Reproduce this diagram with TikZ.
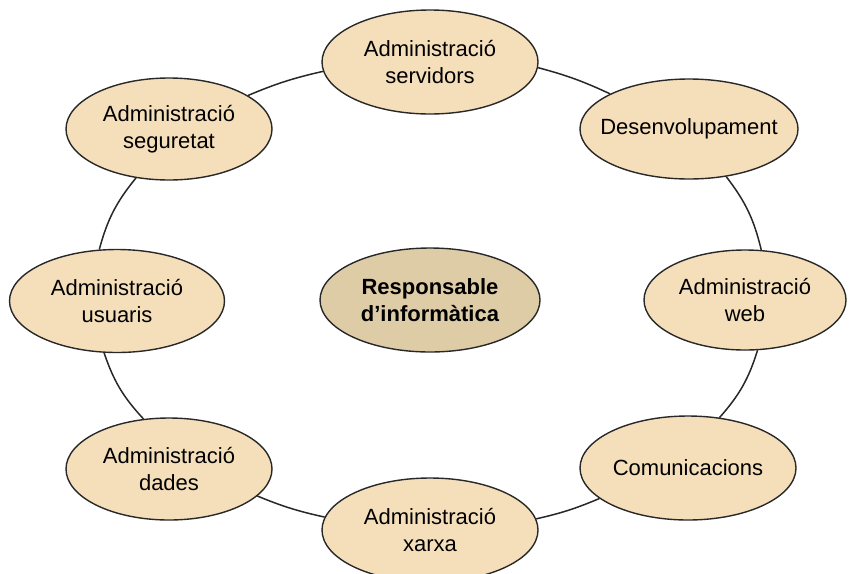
\documentclass[tikz,border=0pt]{standalone}
\usepackage{fontspec}
\setmainfont{Liberation Sans}
\usetikzlibrary{shapes.geometric}
\definecolor{outerfill}{RGB}{245,223,187}
\definecolor{centerfill}{RGB}{222,204,167}
\definecolor{edgecol}{RGB}{40,40,40}
\tikzset{
  area/.style={ellipse, draw=edgecol, line width=1.4pt, fill=outerfill, inner sep=0pt,
    minimum width=214pt, minimum height=103pt, align=center,
    font=\fontsize{22}{27}\selectfont},
  hub/.style={area, fill=centerfill, minimum width=220pt, font=\fontsize{22}{27}\selectfont\bfseries},
  link/.style={draw=edgecol, line width=1.5pt}
}
\begin{document}
\begin{tikzpicture}[x=1pt,y=1pt]
\useasboundingbox (0,0) rectangle (850,-573);
\fill[white] (0,0) rectangle (850,-573);
\node[area, minimum width=216pt, minimum height=104pt] (serv) at (430,-62) {Administració\\servidors};
\node[area, minimum width=206pt, minimum height=102pt] (segu) at (169,-129) {Administració\\seguretat};
\node[area, minimum width=218pt, minimum height=100pt, inner xsep=-25pt] (dese) at (689,-129) {Desenvolupament};
\node[area, minimum width=215pt, minimum height=103pt] (usua) at (117,-301) {Administració\\usuaris};
\node[hub, minimum height=104pt] (resp) at (430,-300) {Responsable\\d’informàtica};
\node[area, minimum width=202pt, minimum height=100pt] (web) at (745,-300) {Administració\\web};
\node[area, minimum width=206pt, minimum height=102pt] (dade) at (169,-469) {Administració\\dades};
\node[area, minimum width=216pt, minimum height=104pt, inner xsep=-20pt] (comu) at (688,-468) {Comunicacions};
\node[area, minimum width=216pt, minimum height=104pt] (xarx) at (430,-530) {Administració\\xarxa};
\draw[link] (serv.-3.7) to[bend left=5] (dese.156);
\draw[link] (dese.-52) to[bend left=12] (web.72);
\draw[link] (web.-76) to[bend left=12] (comu.58);
\draw[link] (comu.-161) to[bend left=5] (xarx.6.4);
\draw[link] (xarx.173) to[bend left=5] (dade.-17.7);
\draw[link] (dade.117) to[bend left=12] (usua.-104);
\draw[link] (usua.109) to[bend left=12] (segu.-124.5);
\draw[link] (segu.23.3) to[bend left=5] (serv.-175.7);
\end{tikzpicture}
\end{document}
